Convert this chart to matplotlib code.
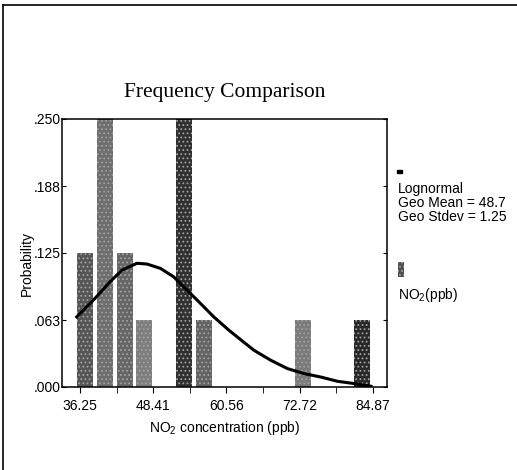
import matplotlib
matplotlib.use("Agg")
import matplotlib.pyplot as plt
from matplotlib.patches import Rectangle
from matplotlib.lines import Line2D

# -----------------------------
# Data
# -----------------------------
bar_centers = [37.08, 40.37, 43.66, 46.95, 53.53, 56.82, 73.27, 83.14]
bar_probs = [0.125, 0.25, 0.125, 0.0625, 0.25, 0.0625, 0.0625, 0.0625]
bar_colors = ["#555555", "#6e6e6e", "#666666", "#7e7e7e",
              "#303030", "#636363", "#7a7a7a", "#282828"]
bar_width = 2.67

curve_x = [35.7, 38.47, 41.25, 43.2, 45.7, 47.37, 49.58, 51.8, 54.03, 56.25,
           58.47, 60.97, 62.37, 65.13, 67.92, 70.7, 73.47, 76.25, 79.03,
           81.8, 84.58]
curve_y = [0.0654, 0.0811, 0.0982, 0.109, 0.1154, 0.1147, 0.1107, 0.1028,
           0.0904, 0.078, 0.0654, 0.053, 0.0467, 0.0343, 0.025, 0.0172,
           0.0125, 0.0093, 0.0053, 0.0032, 0.0007]

x_ticks = [36.25, 48.41, 60.56, 72.72, 84.87]
x_minor = [42.33, 54.49, 66.64, 78.80]
y_ticks = [0.0, 0.0625, 0.125, 0.1875, 0.25]
y_labels = [".000", ".063", ".125", ".188", ".250"]

# -----------------------------
# Figure
# -----------------------------
W, H = 517, 470
plt.rcParams["font.family"] = ["Liberation Sans", "DejaVu Sans"]
plt.rcParams["mathtext.default"] = "regular"
plt.rcParams["hatch.linewidth"] = 0.8

fig = plt.figure(figsize=(W / 100, H / 100), dpi=100)
ax = fig.add_axes([62 / W, 1 - 387 / H, 325 / W, 268 / H])

# outer frame (top and left only, as in the scan)
fig.add_artist(Line2D([3 / W, 3 / W], [0, 1 - 5 / H], color="black", lw=1.2))
fig.add_artist(Line2D([3 / W, 1], [1 - 5 / H, 1 - 5 / H], color="black", lw=1.2))

bars = ax.bar(bar_centers, bar_probs, width=bar_width, color=bar_colors,
              linewidth=0, hatch="....", zorder=2)
for b in bars:
    b.set_edgecolor("#a0a0a0")
ax.plot(curve_x, curve_y, color="black", lw=2.2, zorder=3)

ax.set_xlim(33.25, 87.25)
ax.set_ylim(0, 0.25)
ax.set_xticks(x_ticks)
ax.set_xticklabels([f"{v:.2f}" for v in x_ticks])
ax.set_xticks(x_minor, minor=True)
ax.set_yticks(y_ticks)
ax.set_yticklabels(y_labels)
ax.tick_params(axis="x", which="both", direction="out", length=4, pad=5,
               labelsize=10, top=False)
ax.tick_params(axis="y", which="both", direction="in", length=3, pad=1,
               labelsize=10, right=True)
for s in ax.spines.values():
    s.set_linewidth(1.1)

ax.set_title("Frequency Comparison", family=["Liberation Serif", "DejaVu Serif"],
             fontsize=15.5, pad=16)
ax.set_xlabel("NO$_2$ concentration (ppb)", fontsize=10, labelpad=4)
ax.set_ylabel("Probability", fontsize=10)
ax.yaxis.set_label_coords(-0.088, 0.46)

# -----------------------------
# Legend on the right
# -----------------------------
fig.add_artist(Rectangle((397 / W, 1 - 173 / H), 5 / W, 3 / H,
                         transform=fig.transFigure, color="black"))
fig.text(398 / W, 1 - 189 / H, "Lognormal", fontsize=10, va="center")
fig.text(398 / W, 1 - 203 / H, "Geo Mean = 48.7", fontsize=10, va="center")
fig.text(398 / W, 1 - 217 / H, "Geo Stdev = 1.25", fontsize=10, va="center")
fig.add_artist(Rectangle((398 / W, 1 - 277 / H), 6 / W, 15 / H,
                         transform=fig.transFigure, facecolor="#505050",
                         edgecolor="#a0a0a0", hatch="....", linewidth=0))
fig.text(398 / W, 1 - 295 / H, "NO$_2$(ppb)", fontsize=10, va="center")

fig.savefig("out.png", dpi=100, facecolor="white")
